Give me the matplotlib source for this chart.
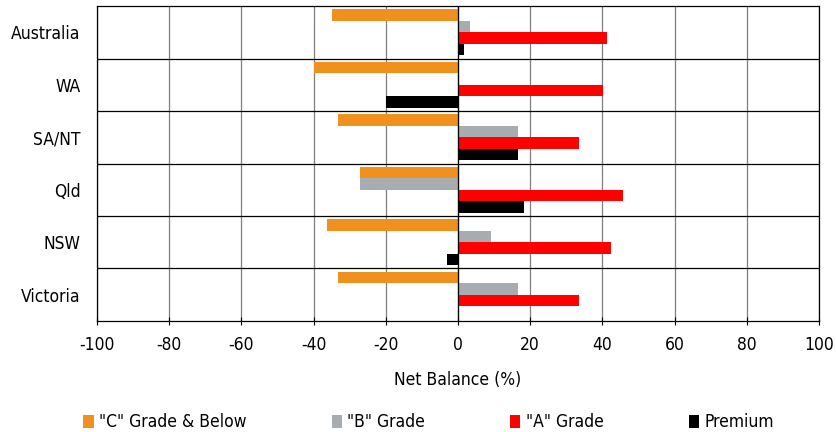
import numpy as np
import matplotlib.pyplot as plt
from matplotlib.font_manager import fontManager

# data
regions = ["Australia", "WA", "SA/NT", "Qld", "NSW", "Victoria"]
grade_c = [-34.9, -40.0, -33.2, -27.2, -36.2, -33.2]
grade_b = [3.2, 0.0, 16.7, -27.2, 9.2, 16.7]
grade_a = [41.4, 40.2, 33.5, 45.6, 42.4, 33.5]
premium = [1.6, -19.9, 16.7, 18.3, -3.0, 0.0]

series = [
    ('"C" Grade & Below', grade_c, "#f0901e"),
    ('"B" Grade', grade_b, "#a6acaf"),
    ('"A" Grade', grade_a, "#ff0000"),
    ("Premium", premium, "#000000"),
]

names = {f.name for f in fontManager.ttflist}
fam = "DejaVu Sans Condensed" if "DejaVu Sans Condensed" in names else "DejaVu Sans"
plt.rcParams["font.family"] = [fam, "DejaVu Sans"]
plt.rcParams["font.stretch"] = "condensed"
plt.rcParams["axes.unicode_minus"] = False

fig = plt.figure(figsize=(8.37, 4.32), dpi=100)
ax = fig.add_axes([0.1159, 0.257, 0.8626, 0.729])

y = np.arange(len(regions))
h = 0.22
for i, (lab, vals, col) in enumerate(series):
    ax.barh(y + (i - 1.5) * h, vals, height=h, color=col, label=lab, zorder=3)

ax.set_xlim(-100, 100)
ax.set_ylim(len(regions) - 0.5, -0.5)
ax.set_xticks(np.arange(-100, 101, 20))
ax.set_yticks(y)
ax.set_yticklabels(regions, fontsize=12.5)
ax.tick_params(axis="x", labelsize=12.5, direction="inout", length=6, pad=8)
ax.tick_params(axis="y", length=0, pad=12)
ax.set_yticks(np.arange(0.5, len(regions) - 0.5, 1), minor=True)
ax.tick_params(axis="y", which="minor", length=0)
ax.grid(axis="x", color="#7f7f7f", linewidth=0.9, zorder=0)
ax.grid(axis="y", which="minor", color="#000000", linewidth=0.9, zorder=0)
ax.axvline(0, color="#000000", linewidth=0.9, zorder=4)
for s in ax.spines.values():
    s.set_color("#000000")
    s.set_linewidth(0.9)
ax.set_xlabel("Net Balance (%)", fontsize=12.5, labelpad=12)

fig.legend(loc="lower center", bbox_to_anchor=(0.512, -0.035), ncol=4, frameon=False,
           fontsize=12.5, handlelength=0.6, handleheight=0.8, handletextpad=0.3,
           columnspacing=4.9)

fig.savefig("out.png", dpi=100)
